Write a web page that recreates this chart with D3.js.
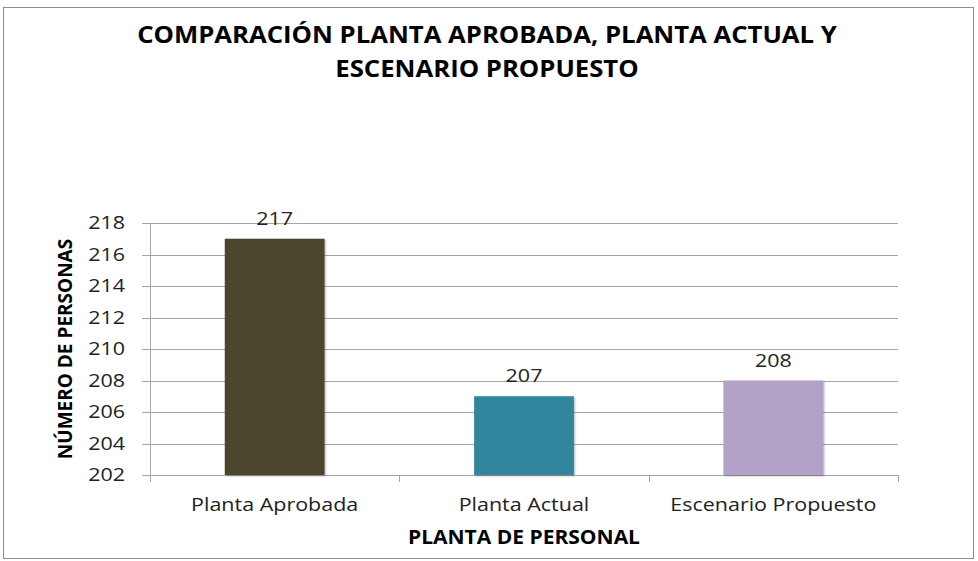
<!DOCTYPE html>
<head>
<meta charset="utf-8">
<style>
    body { margin: 0; background: #fff; }
    text { font-family: "Open Sans", "Noto Sans", sans-serif; }
</style>
<script src="https://d3js.org/d3.v7.min.js"></script>
</head>
<body>
<script>
// chart data
var categories = ["Planta Aprobada", "Planta Actual", "Escenario Propuesto"];
var values = [217, 207, 208];
var barColors = ["#4b452d", "#31859c", "#b3a2c8"];
var yTicks = [202, 204, 206, 208, 210, 212, 214, 216, 218];

var width = 978, height = 561;
var margin = {top: 223, right: 80, bottom: 86, left: 150};
var stretch = 1.13; // reference text looks horizontally stretched

var svg = d3.select("body").append("svg")
    .attr("width", width)
    .attr("height", height);

// widen text a bit to match the reference's letter widths
function widen(sel, k) {
    sel.each(function() {
        var len = this.getComputedTextLength();
        d3.select(this)
            .attr("textLength", len * k)
            .attr("lengthAdjust", "spacingAndGlyphs");
    });
}

// chart border
svg.append("rect")
    .attr("x", 3.5).attr("y", 7.5)
    .attr("width", 970).attr("height", 551)
    .attr("fill", "#fff")
    .attr("stroke", "#8c8c8c");

var x = d3.scaleBand()
    .domain(categories)
    .range([margin.left, width - margin.right])
    .paddingInner(0.6)
    .paddingOuter(0.3);

var y = d3.scaleLinear()
    .domain([202, 218])
    .range([height - margin.bottom, margin.top]);

// gridlines
svg.append("g")
    .selectAll("line")
    .data(yTicks)
    .enter().append("line")
    .attr("x1", margin.left - 8)
    .attr("x2", width - margin.right)
    .attr("y1", function(d) { return Math.round(y(d)) + 0.5; })
    .attr("y2", function(d) { return Math.round(y(d)) + 0.5; })
    .attr("stroke", "#a6a6a6");

// y axis line
svg.append("line")
    .attr("x1", margin.left + 0.5).attr("x2", margin.left + 0.5)
    .attr("y1", y(218)).attr("y2", y(202) + 7)
    .attr("stroke", "#a6a6a6");

// y tick labels
svg.append("g")
    .selectAll("text")
    .data(yTicks)
    .enter().append("text")
    .attr("x", margin.left - 25)
    .attr("y", function(d) { return y(d) + 6; })
    .attr("text-anchor", "end")
    .style("font-size", "19px")
    .attr("fill", "#222")
    .text(function(d) { return d; })
    .call(widen, stretch);

// x axis ticks
var edges = [margin.left].concat(categories.map(function(c) {
    return x(c) + x.bandwidth() / 2 + x.step() / 2;
}));
svg.append("g")
    .selectAll("line")
    .data(edges)
    .enter().append("line")
    .attr("x1", function(d) { return Math.round(d) + 0.5; })
    .attr("x2", function(d) { return Math.round(d) + 0.5; })
    .attr("y1", y(202)).attr("y2", y(202) + 7)
    .attr("stroke", "#a6a6a6");

// bars
svg.append("g")
    .selectAll("rect")
    .data(values)
    .enter().append("rect")
    .attr("x", function(d, i) { return x(categories[i]); })
    .attr("y", function(d) { return y(d); })
    .attr("width", x.bandwidth())
    .attr("height", function(d) { return y(202) - y(d); })
    .attr("fill", function(d, i) { return barColors[i]; })
    .style("filter", "drop-shadow(1px 1px 1px rgba(0,0,0,0.3))");

// value labels
svg.append("g")
    .selectAll("text")
    .data(values)
    .enter().append("text")
    .attr("x", function(d, i) { return x(categories[i]) + x.bandwidth() / 2; })
    .attr("y", function(d) { return y(d) - 14; })
    .attr("text-anchor", "middle")
    .style("font-size", "19px")
    .attr("fill", "#222")
    .text(function(d) { return d; })
    .call(widen, stretch);

// category labels
svg.append("g")
    .selectAll("text")
    .data(categories)
    .enter().append("text")
    .attr("x", function(d) { return x(d) + x.bandwidth() / 2; })
    .attr("y", 511)
    .attr("text-anchor", "middle")
    .style("font-size", "19px")
    .attr("fill", "#222")
    .text(function(d) { return d; })
    .call(widen, stretch);

// axis titles
svg.append("text")
    .attr("x", x(categories[1]) + x.bandwidth() / 2)
    .attr("y", 544)
    .attr("text-anchor", "middle")
    .style("font-size", "20px")
    .style("font-weight", "bold")
    .text("PLANTA DE PERSONAL")
    .call(widen, 1.05);

svg.append("text")
    .attr("transform", "translate(72," + y(210) + ") rotate(-90)")
    .attr("text-anchor", "middle")
    .style("font-size", "19px")
    .style("font-weight", "bold")
    .text("NÚMERO DE PERSONAS");

// title
var title = ["COMPARACIÓN PLANTA APROBADA, PLANTA ACTUAL Y", "ESCENARIO PROPUESTO"];
svg.append("g")
    .selectAll("text")
    .data(title)
    .enter().append("text")
    .attr("x", 487)
    .attr("y", function(d, i) { return 43 + i * 34; })
    .attr("text-anchor", "middle")
    .style("font-size", "24px")
    .style("font-weight", "bold")
    .text(function(d) { return d; })
    .call(widen, 1.07);
</script>
</body>
